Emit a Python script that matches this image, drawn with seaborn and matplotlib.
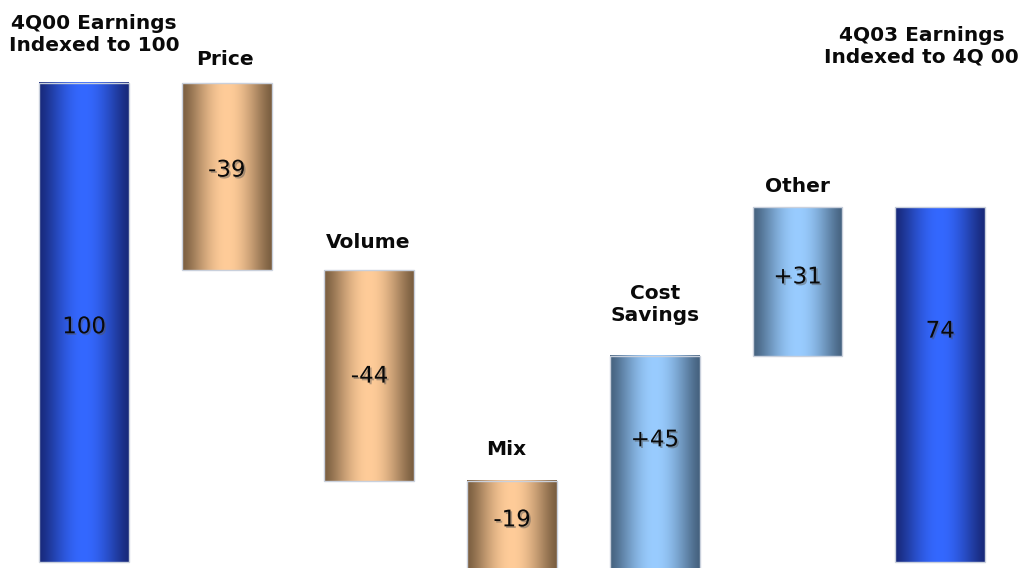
import numpy as np
import pandas as pd
import matplotlib
matplotlib.use("Agg")
import matplotlib.pyplot as plt
import matplotlib.patheffects as pe
from matplotlib.colors import to_rgb
import seaborn as sns

# ---- data ----
steps = ["4Q00 Earnings\nIndexed to 100", "Price", "Volume", "Mix",
         "Cost\nSavings", "Other", "4Q03 Earnings\nIndexed to 4Q 00"]
values = [100, -39, -44, -19, 45, 31, 74]
kinds = ["total", "delta", "delta", "delta", "delta", "delta", "total"]
value_labels = ["100", "-39", "-44", "-19", "+45", "+31", "74"]

# label placement (data units)
title_x = [0.07, 0.99, 1.99, 2.96, 4.0, 5.0, 5.87]
title_y = [110.2, 104.8, 66.6, 23.4, 53.7, 78.3, 107.6]
number_y = [49.1, 81.8, 38.8, 8.8, 25.5, 59.5, 48.2]

# waterfall geometry from values
bottoms, heights = [], []
running = 0
for v, k in zip(values, kinds):
    if k == "total":
        bottoms.append(0)
        heights.append(v)
        running = v
    else:
        if v < 0:
            bottoms.append(running + v)
            heights.append(-v)
        else:
            bottoms.append(running)
            heights.append(v)
        running += v

df = pd.DataFrame({"step": steps, "height": heights})

sns.set_theme(style="white")
plt.rcParams["font.family"] = ["DejaVu Sans"]

fig = plt.figure(figsize=(10.25, 5.68), dpi=100)
ax = fig.add_axes([0, 0, 1, 1])

sns.barplot(data=df, x="step", y="height", order=steps, bottom=bottoms,
            width=0.63, errorbar=None, color="#3366ff", ax=ax,
            edgecolor="#c9d0dc", linewidth=1.0)

gradients = {
    "total": ("#18297a", "#3468ff"),
    "neg": ("#7a5e40", "#ffcc99"),
    "pos": ("#45627f", "#99ccff"),
}

def grad_image(edge, center, n=200):
    e = np.array(to_rgb(edge))
    c = np.array(to_rgb(center))
    t = np.linspace(0, 1, n)
    f = np.sin(np.pi * t) ** 1.3
    img = e[None, :] + (c - e)[None, :] * f[:, None]
    return img[None, :, :]

patches = list(ax.patches)
for p, v, k in zip(patches, values, kinds):
    key = "total" if k == "total" else ("neg" if v < 0 else "pos")
    edge, center = gradients[key]
    x0, y0 = p.get_x(), p.get_y()
    w, h = p.get_width(), p.get_height()
    ax.imshow(grad_image(edge, center), extent=[x0, x0 + w, y0, y0 + h],
              aspect="auto", zorder=1, interpolation="bilinear")
    p.set_facecolor("none")
    p.set_zorder(2)

shadow = [pe.withSimplePatchShadow(offset=(1.2, -1.2), shadow_rgbFace="#555555", alpha=0.45)]
for i, (txt, ny) in enumerate(zip(value_labels, number_y)):
    ax.text(i, ny, txt, ha="center", va="center", fontsize=16.5,
            color="#0a0a0a", zorder=5, path_effects=shadow)

for tx, ty, s in zip(title_x, title_y, steps):
    ax.text(tx, ty, s, ha="center", va="center", fontsize=14.5,
            fontweight="bold", color="#0a0a0a", zorder=5, linespacing=1.2)

ax.set_xlim(-0.589, 6.594)
ax.set_ylim(-1.25, 117.3)
ax.axis("off")

fig.savefig("out.png", dpi=100, facecolor="white")
